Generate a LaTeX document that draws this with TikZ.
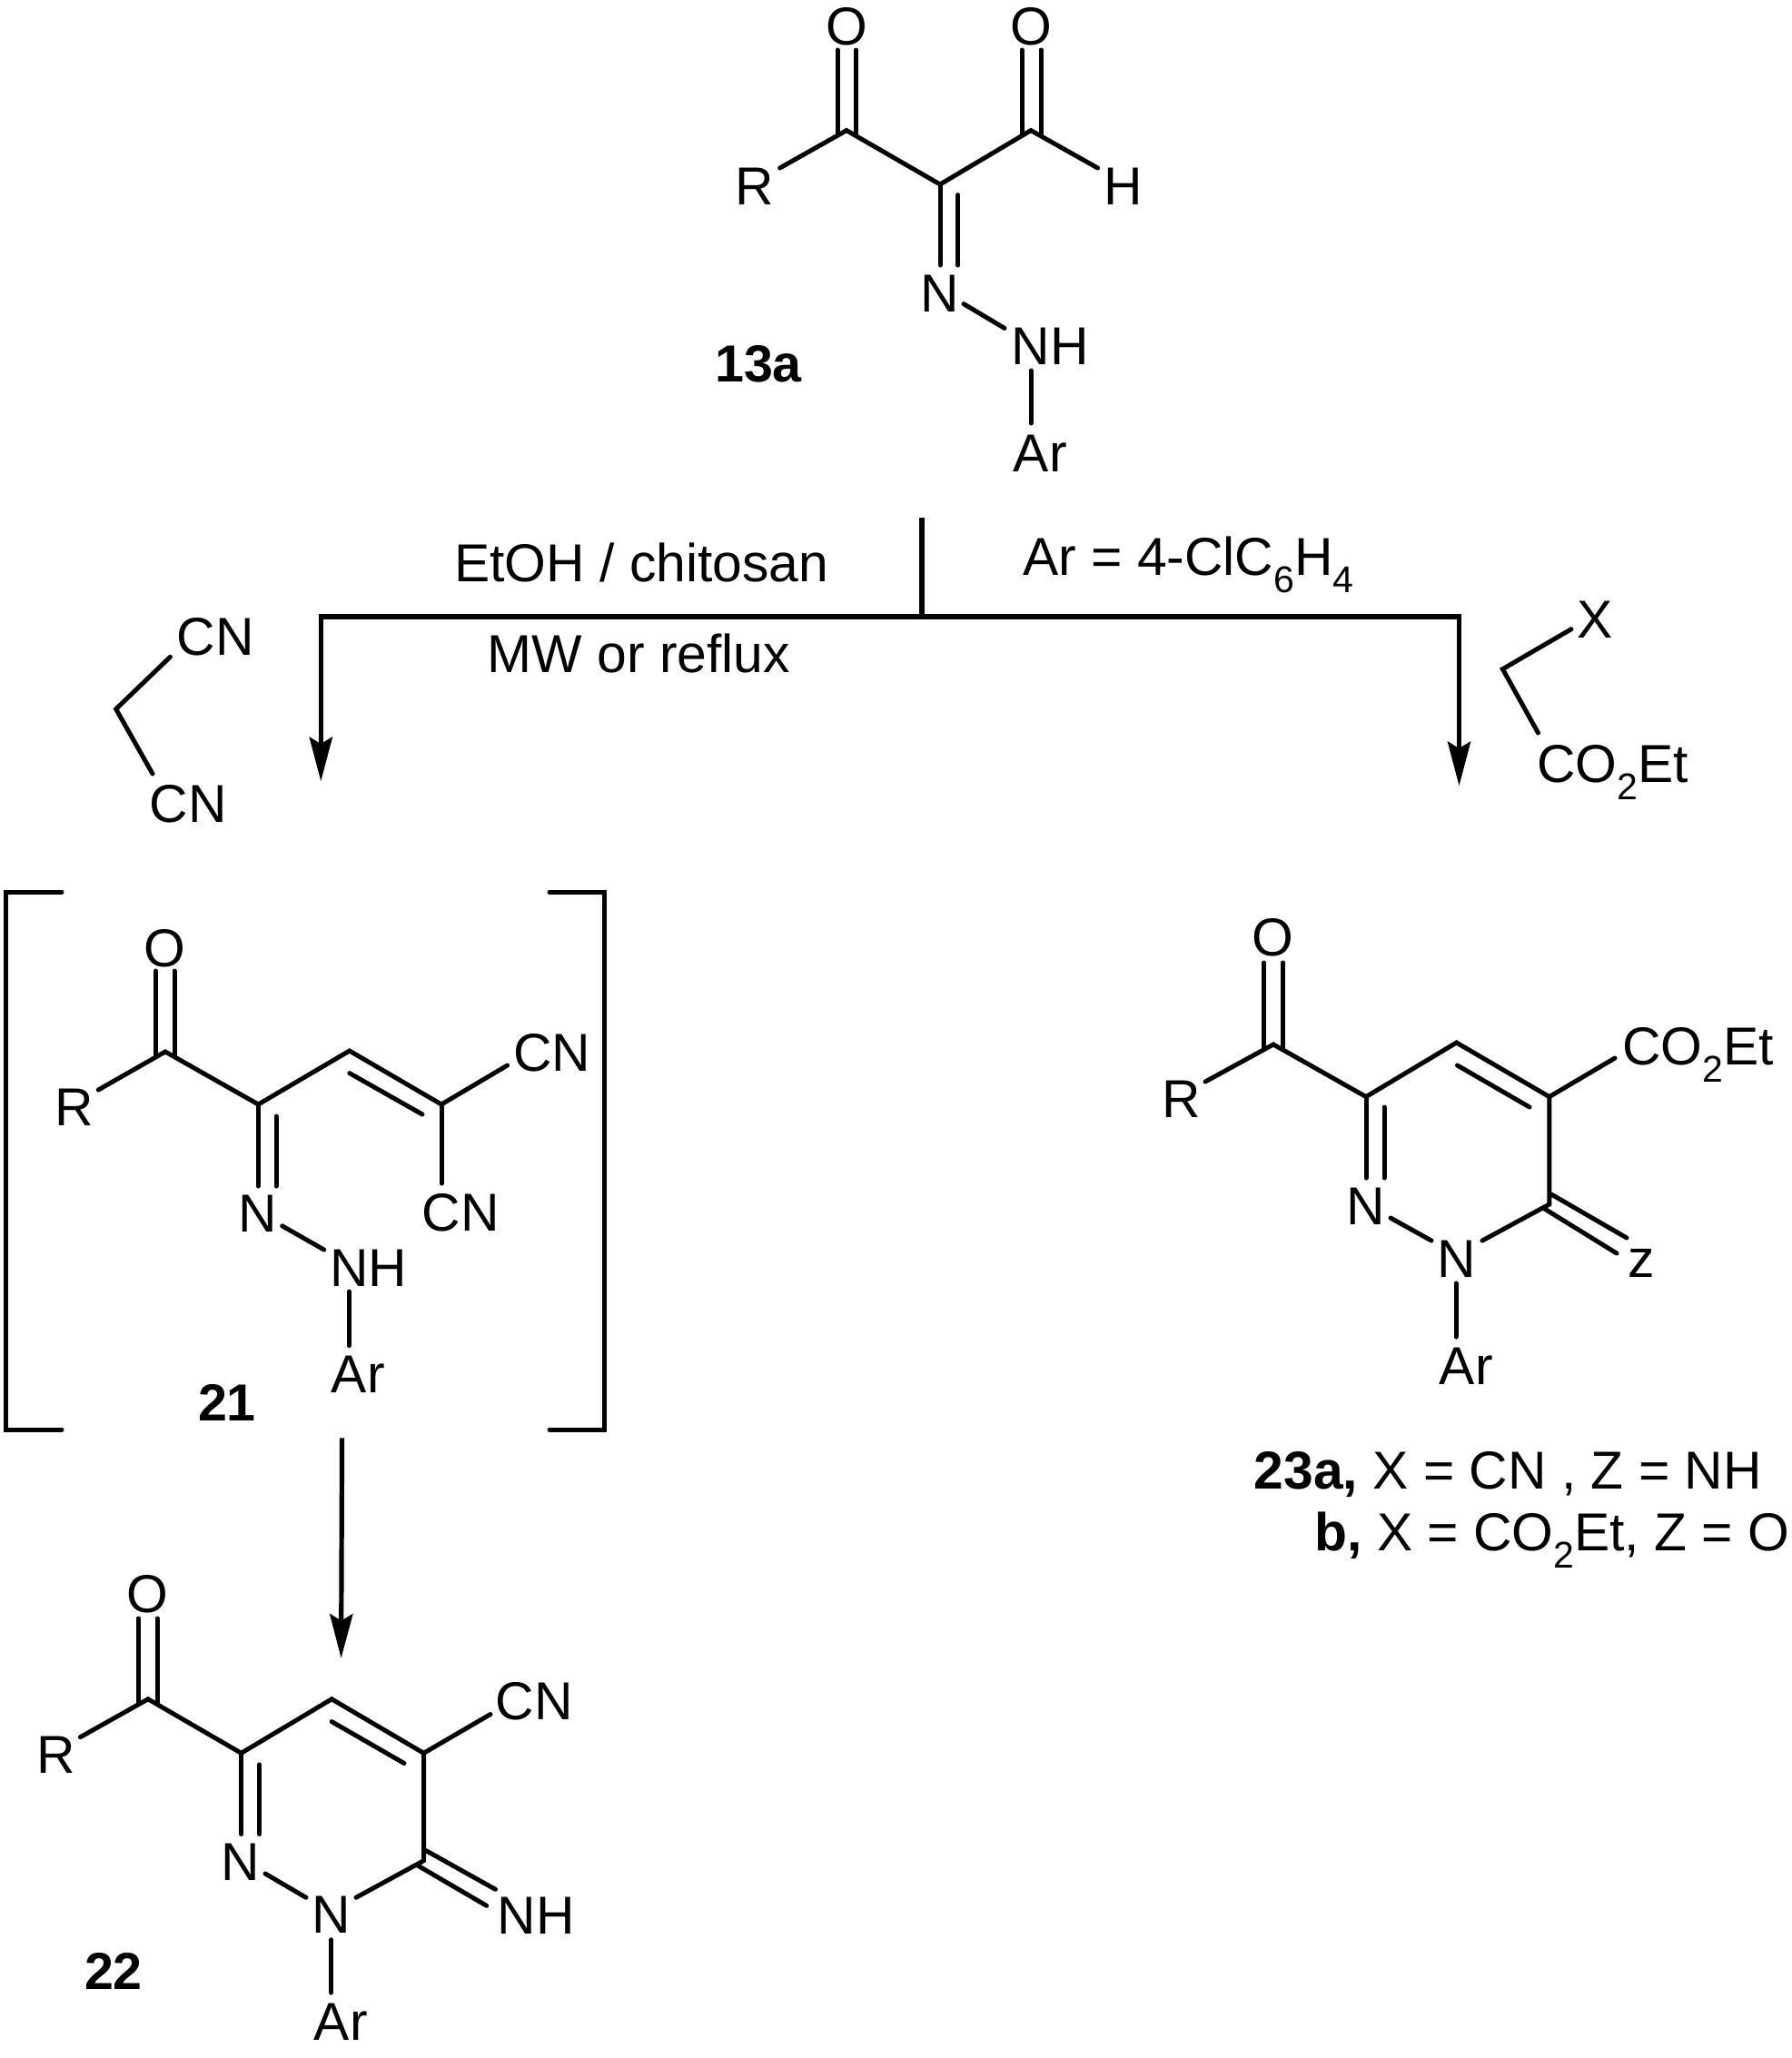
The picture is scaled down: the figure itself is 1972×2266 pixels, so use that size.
\documentclass[tikz,border=0pt]{standalone}
\usepackage{fontspec}
\setmainfont{Liberation Sans}
\usetikzlibrary{arrows.meta}
\newcommand{\subs}[1]{\raisebox{-9.5pt}{\fontsize{20.5}{20.5}\selectfont #1}}
\tikzset{
  lbl/.style={font=\fontsize{29.4}{35}\selectfont, inner sep=0pt, anchor=base, xshift=0.15pt},
  cpd/.style={font=\fontsize{28.7}{35}\selectfont\bfseries, inner sep=0pt, anchor=base},
  bond/.style={line width=2.5pt, line cap=round, line join=miter, miter limit=10},
  flow/.style={line width=2.6pt, line join=miter},
  rxn/.style={line width=2.6pt, -{Stealth[length=24.5pt,width=13pt,inset=4pt,line width=0pt]}},
  brk/.style={line width=2.5pt, line cap=round, line join=miter}
}
\begin{document}
\begin{tikzpicture}[x=0.5pt,y=-0.5pt]
\path[fill=white,use as bounding box] (0,0) rectangle (1972,2266);

% ---------- 13a
\begin{scope}[xshift=0.5pt]
\node[lbl] (aO1) at (931,49.5) {O};
\node[lbl] (aO2) at (1134,49.5) {O};
\node[lbl] (aR) at (829.5,225.7) {R};
\node[lbl] (aH) at (1235.7,225.7) {H};
\node[lbl] (aN) at (1033.5,343.6) {N};
\node[lbl] (aNH) at (1155,401.8) {NH};
\node[lbl] (aAr) at (1144,519) {Ar};
\node[cpd] (a13) at (834,420.7) {13a};
\coordinate (ac1) at (931,143.6);
\coordinate (ac2) at (1134,143.6);
\coordinate (ac3) at (1034,203);
\coordinate (aRb) at (857.6,185);
\coordinate (aHb) at (1207.6,185);
\coordinate (aOa1) at (921,55);  \coordinate (aOa2) at (921,149);
\coordinate (aOb1) at (941.5,55);\coordinate (aOb2) at (941.5,149);
\coordinate (aOc1) at (1124,55);  \coordinate (aOc2) at (1124,149);
\coordinate (aOd1) at (1145,55);  \coordinate (aOd2) at (1145,149);
\coordinate (aNa) at (1034,292);
\coordinate (aNb1) at (1053.6,214.6); \coordinate (aNb2) at (1053.6,292);
\coordinate (aNN1) at (1060,334.6); \coordinate (aNN2) at (1105,361.4);
\coordinate (aAr1) at (1134,408); \coordinate (aAr2) at (1134,466);
\draw[bond] (aRb) -- (ac1) -- (ac3) -- (ac2) -- (aHb);
\draw[bond] (aOa1) -- (aOa2);
\draw[bond] (aOb1) -- (aOb2);
\draw[bond] (aOc1) -- (aOc2);
\draw[bond] (aOd1) -- (aOd2);
\draw[bond] (ac3) -- (aNa);
\draw[bond] (aNb1) -- (aNb2);
\draw[bond] (aNN1) -- (aNN2);
\draw[bond] (aAr1) -- (aAr2);
\end{scope}

% ---------- reaction branch
\coordinate (st) at (1015,570);
\coordinate (jn) at (1015,679);
\coordinate (hl) at (353.3,679);
\coordinate (hr) at (1606.5,679);
\coordinate (tl) at (353.3,860);
\coordinate (tr) at (1606.5,865);
\draw[flow] (st) -- (jn);
\draw[rxn] (jn) -- (hl) -- (tl);
\draw[rxn] (jn) -- (hr) -- (tr);
\node[lbl] (t1) at (706,640.7) {EtOH / chitosan};
\node[lbl] (t2) at (703,740.7) {MW or reflux};
\node[lbl] (t3) at (1308,633) {Ar = 4-ClC\subs{6}H\subs{4}};

% ---------- malononitrile
\node[lbl] (mCN1) at (237,721.7) {CN};
\node[lbl] (mCN2) at (207,905.7) {CN};
\coordinate (mv) at (127.7,780.7);
\coordinate (mb1) at (187.4,723.3);
\coordinate (mb2) at (168,852);
\draw[bond] (mb1) -- (mv) -- (mb2);

% ---------- ester reagent
\node[lbl] (eX) at (1756,702.7) {X};
\node[lbl] (eCO) at (1775,861.7) {CO\subs{2}Et};
\coordinate (ev) at (1654.4,736.7);
\coordinate (eb1) at (1730,692.7);
\coordinate (eb2) at (1693.5,807);
\draw[bond] (eb1) -- (ev) -- (eb2);

% ---------- brackets
\coordinate (bl1) at (68,982.4); \coordinate (bl2) at (6.7,982.4);
\coordinate (bl3) at (6.7,1574); \coordinate (bl4) at (68,1574);
\coordinate (br1) at (605,982.4); \coordinate (br2) at (665.6,982.4);
\coordinate (br3) at (665.6,1574); \coordinate (br4) at (605,1574);
\draw[brk] (bl1) -- (bl2) -- (bl3) -- (bl4);
\draw[brk] (br1) -- (br2) -- (br3) -- (br4);

% ---------- 21
\node[lbl] (bO) at (181.5,1064) {O};
\node[lbl] (bR) at (81,1239.6) {R};
\node[lbl] (bN) at (283.5,1356.7) {N};
\node[lbl] (bNH) at (405.7,1416) {NH};
\node[lbl] (bAr) at (394,1533.5) {Ar};
\node[lbl] (bCN1) at (607.5,1179) {CN};
\node[lbl] (bCN2) at (507,1355) {CN};
\node[cpd] (b21) at (250,1564) {21};
\coordinate (bc1) at (182,1158);
\coordinate (bc2) at (284.4,1216);
\coordinate (bc3) at (384.8,1157);
\coordinate (bc4) at (486,1216);
\coordinate (bRb) at (108.3,1200);
\coordinate (bOa1) at (171.6,1069); \coordinate (bOa2) at (171.6,1163);
\coordinate (bOb1) at (192,1069);   \coordinate (bOb2) at (192,1163);
\coordinate (bin1) at (384.8,1181.6); \coordinate (bin2) at (465,1227);
\coordinate (bCb1) at (558.6,1173);
\coordinate (bCb2) at (486,1303);
\coordinate (bNa) at (284.4,1306);
\coordinate (bNb1) at (304,1229); \coordinate (bNb2) at (304,1306);
\coordinate (bNN1) at (310.7,1349.8); \coordinate (bNN2) at (356.7,1376);
\coordinate (bAr1) at (384.3,1422); \coordinate (bAr2) at (384.3,1481.6);
\draw[bond] (bRb) -- (bc1) -- (bc2) -- (bc3) -- (bc4) -- (bCb1);
\draw[bond] (bOa1) -- (bOa2);
\draw[bond] (bOb1) -- (bOb2);
\draw[bond] (bin1) -- (bin2);
\draw[bond] (bc4) -- (bCb2);
\draw[bond] (bc2) -- (bNa);
\draw[bond] (bNb1) -- (bNb2);
\draw[bond] (bNN1) -- (bNN2);
\draw[bond] (bAr1) -- (bAr2);

% ---------- arrow 21 -> 22
\coordinate (ar1) at (376.6,1583.4);
\coordinate (ar2) at (375.6,1825.5);
\draw[rxn] (ar1) -- (ar2);

% ---------- 22
\node[lbl] (cO) at (162,1775) {O};
\node[lbl] (cR) at (61.6,1952.8) {R};
\node[lbl] (cN1) at (264.7,2070.4) {N};
\node[lbl] (cN2) at (364.7,2128.5) {N};
\node[lbl] (cNH) at (590,2129) {NH};
\node[lbl] (cAr) at (375,2246) {Ar};
\node[lbl] (cCN) at (588,1893.3) {CN};
\node[cpd] (c22) at (125,2190.6) {22};
\coordinate (cc1) at (163,1870.8);
\coordinate (cc2) at (265.6,1930.3);
\coordinate (cc3) at (365.2,1870.8);
\coordinate (cc4) at (466.5,1930.3);
\coordinate (cc5) at (466.5,2048.7);
\coordinate (cRb) at (88.4,1912.7);
\coordinate (cOa1) at (152.2,1782); \coordinate (cOa2) at (152.2,1876);
\coordinate (cOb1) at (173.2,1782); \coordinate (cOb2) at (173.2,1876);
\coordinate (cin1) at (365.2,1895.6); \coordinate (cin2) at (445,1941.5);
\coordinate (cCNb) at (540,1887.5);
\coordinate (cNa) at (265.6,2019.5);
\coordinate (cNb1) at (285.3,1942.9); \coordinate (cNb2) at (285.3,2019.5);
\coordinate (cNN1) at (292,2063); \coordinate (cNN2) at (337,2089.3);
\coordinate (cN5) at (392,2089.3);
\coordinate (cd1) at (468.8,2037.5); \coordinate (cd2) at (545.5,2080.3);
\coordinate (cd3) at (459.8,2054);   \coordinate (cd4) at (535.7,2098.3);
\coordinate (cAr1) at (364.7,2135.7); \coordinate (cAr2) at (364.7,2194);
\draw[bond] (cRb) -- (cc1) -- (cc2) -- (cc3) -- (cc4) -- (cCNb);
\draw[bond] (cOa1) -- (cOa2);
\draw[bond] (cOb1) -- (cOb2);
\draw[bond] (cin1) -- (cin2);
\draw[bond] (cc2) -- (cNa);
\draw[bond] (cNb1) -- (cNb2);
\draw[bond] (cc4) -- (cc5) -- (cN5);
\draw[bond] (cNN1) -- (cNN2);
\draw[bond] (cd1) -- (cd2);
\draw[bond] (cd3) -- (cd4);
\draw[bond] (cAr1) -- (cAr2);

% ---------- 23
\node[lbl] (dO) at (1401,1052) {O};
\node[lbl] (dR) at (1300.6,1230) {R};
\node[lbl] (dN1) at (1503,1348) {N};
\node[lbl] (dN2) at (1603.6,1406) {N};
\node[lbl] (dZ) at (1807,1406) {z};
\node[lbl] (dAr) at (1614,1524) {Ar};
\node[lbl] (dCO) at (1869,1172) {CO\subs{2}Et};
\node[lbl] (d1) at (1660,1639.5) {\textbf{23a,} X = CN , Z = NH};
\node[lbl] (d2) at (1708.5,1707) {\textbf{b,} X = CO\subs{2}Et, Z = O};
\coordinate (dc1) at (1402,1150);
\coordinate (dc2) at (1504,1207.6);
\coordinate (dc3) at (1603.6,1148);
\coordinate (dc4) at (1705.8,1207.6);
\coordinate (dc5) at (1705.8,1326);
\coordinate (dRb) at (1327,1191);
\coordinate (dOa1) at (1391.3,1060); \coordinate (dOa2) at (1391.3,1155);
\coordinate (dOb1) at (1412.5,1060); \coordinate (dOb2) at (1412.5,1155);
\coordinate (din1) at (1604.5,1173); \coordinate (din2) at (1684,1219);
\coordinate (dCOb) at (1778,1165);
\coordinate (dNa) at (1504,1297);
\coordinate (dNb1) at (1524,1219); \coordinate (dNb2) at (1524,1297);
\coordinate (dNN1) at (1531,1341); \coordinate (dNN2) at (1576,1366);
\coordinate (dN5) at (1632,1366);
\coordinate (dd1) at (1708,1315); \coordinate (dd2) at (1791,1363);
\coordinate (dd3) at (1699,1330); \coordinate (dd4) at (1780,1380);
\coordinate (dAr1) at (1603,1413); \coordinate (dAr2) at (1603,1472);
\draw[bond] (dRb) -- (dc1) -- (dc2) -- (dc3) -- (dc4) -- (dCOb);
\draw[bond] (dOa1) -- (dOa2);
\draw[bond] (dOb1) -- (dOb2);
\draw[bond] (din1) -- (din2);
\draw[bond] (dc2) -- (dNa);
\draw[bond] (dNb1) -- (dNb2);
\draw[bond] (dc4) -- (dc5) -- (dN5);
\draw[bond] (dNN1) -- (dNN2);
\draw[bond] (dd1) -- (dd2);
\draw[bond] (dd3) -- (dd4);
\draw[bond] (dAr1) -- (dAr2);
\end{tikzpicture}
\end{document}
